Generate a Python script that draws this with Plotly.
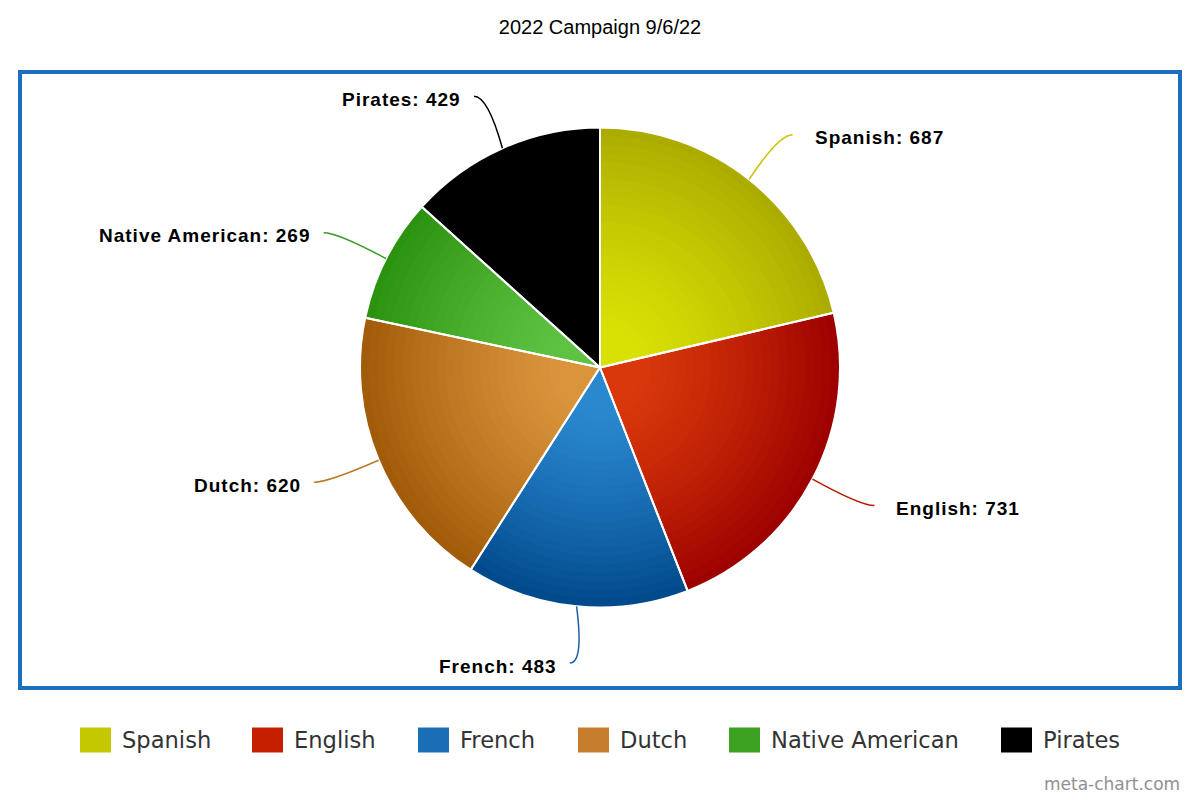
import math
import plotly.graph_objects as go

# ---------------- data ----------------
categories = ["Spanish", "English", "French", "Dutch", "Native American", "Pirates"]
values = [687, 731, 483, 620, 269, 429]
title_text = "2022 Campaign 9/6/22"
credit_text = "meta-chart.com"

# ---------------- styles ----------------
light_colors = ["#d8e004", "#d8380a", "#2a88cf", "#da943c", "#5ec242", "#000000"]
dark_colors = ["#abab00", "#9c0000", "#00488a", "#a05a08", "#2a920e", "#000000"]
line_colors = ["#c4c400", "#b81800", "#1d5fa3", "#b87a2a", "#3a9a22", "#000000"]
legend_colors = ["#c4c800", "#c42000", "#1a6eb6", "#c67e2e", "#3ca222", "#000000"]

W, H = 1200, 800
CX, CY, R = 600.0, 367.5, 240.0
RX_END, RY_END = 310.0, 297.0
N_RINGS = 28

legend_text_x = [122, 294, 460, 620, 771, 1043]
legend_y = 740


def px(x):
    return x / W


def py(y):
    return 1 - y / H


def hex2rgb(h):
    h = h.lstrip("#")
    return [int(h[i:i + 2], 16) for i in (0, 2, 4)]


def mix(c1, c2, t):
    a, b = hex2rgb(c1), hex2rgb(c2)
    return "rgb(%d,%d,%d)" % tuple(round(a[i] + (b[i] - a[i]) * t) for i in range(3))


fig = go.Figure()

# concentric pies -> radial gradient (largest first)
for k in range(N_RINGS, 0, -1):
    r = R * k / N_RINGS
    t = (k - 0.5) / N_RINGS
    te = max(0.0, (t - 0.15) / 0.85) ** 1.3
    cols = [mix(l, d, te) for l, d in zip(light_colors, dark_colors)]
    fig.add_trace(go.Pie(
        labels=categories, values=values, sort=False, direction="clockwise",
        rotation=0, textinfo="none", hoverinfo="skip", showlegend=False,
        marker=dict(colors=cols, line=dict(width=0)),
        domain=dict(x=[px(CX - r), px(CX + r)], y=[py(CY + r), py(CY - r)]),
    ))

# overlay with white slice borders
fig.add_trace(go.Pie(
    labels=categories, values=values, sort=False, direction="clockwise",
    rotation=0, textinfo="none", hoverinfo="label+value", showlegend=False,
    marker=dict(colors=["rgba(0,0,0,0)"] * len(values), line=dict(width=2, color="white")),
    domain=dict(x=[px(CX - R), px(CX + R)], y=[py(CY + R), py(CY - R)]),
))

shapes = []
annotations = []

# leader lines and labels, computed from the data angles
total = sum(values)
cum = 0
for i, (cat, v) in enumerate(zip(categories, values)):
    theta = 2 * math.pi * (cum + v / 2) / total
    cum += v
    s, c = math.sin(theta), math.cos(theta)
    x0, y0 = CX + R * s, CY - R * c
    x2, y2 = CX + RX_END * s, CY - RY_END * c
    side = 1 if s >= 0 else -1
    x1, y1 = x2 - side * 14, y2
    path = "M %f %f Q %f %f %f %f" % (px(x0), py(y0), px(x1), py(y1), px(x2), py(y2))
    shapes.append(dict(type="path", xref="paper", yref="paper", path=path,
                       line=dict(color=line_colors[i], width=1.5)))
    tx = x2 + 22 if side > 0 else x2 - 13
    annotations.append(dict(
        x=px(tx), y=py(y2 + 3), xref="paper", yref="paper",
        xanchor="left" if side > 0 else "right", yanchor="middle",
        text="<b><span style='letter-spacing:1px'>%s: %d</span></b>" % (cat, v),
        showarrow=False, borderpad=0, borderwidth=0,
        font=dict(family="Liberation Sans, Arial", size=19, color="#000000"),
    ))

# frame
shapes.append(dict(type="rect", xref="paper", yref="paper",
                   x0=px(20), x1=px(1180), y0=py(688), y1=py(72),
                   line=dict(color="#1c6ebf", width=4), fillcolor="rgba(0,0,0,0)"))

# custom legend
for i, cat in enumerate(categories):
    sx = legend_text_x[i] - 42
    shapes.append(dict(type="rect", xref="paper", yref="paper",
                       x0=px(sx), x1=px(sx + 31), y0=py(legend_y + 12.5), y1=py(legend_y - 12.5),
                       line=dict(width=0), fillcolor=legend_colors[i]))
    annotations.append(dict(
        x=px(legend_text_x[i]), y=py(legend_y), xref="paper", yref="paper",
        xanchor="left", yanchor="middle", text=cat, showarrow=False,
        borderpad=0, borderwidth=0,
        font=dict(family="DejaVu Sans", size=22.6, color="#333333"),
    ))

annotations.append(dict(
    x=px(1180), y=py(784), xref="paper", yref="paper", xanchor="right", yanchor="middle",
    text=credit_text, showarrow=False, borderpad=0, borderwidth=0,
    font=dict(family="DejaVu Sans", size=17, color="#909090"),
))

fig.update_layout(
    width=W, height=H,
    margin=dict(l=0, r=0, t=0, b=0),
    paper_bgcolor="white", plot_bgcolor="white",
    title=dict(text=title_text, x=0.5, y=py(27), xanchor="center", yanchor="middle",
               font=dict(family="Liberation Sans, Arial", size=20, color="#000000")),
    shapes=shapes, annotations=annotations, showlegend=False,
)

fig.write_html("out.html", config={"displayModeBar": False},
               post_script="document.body.style.margin='0';document.body.style.overflow='hidden';")
